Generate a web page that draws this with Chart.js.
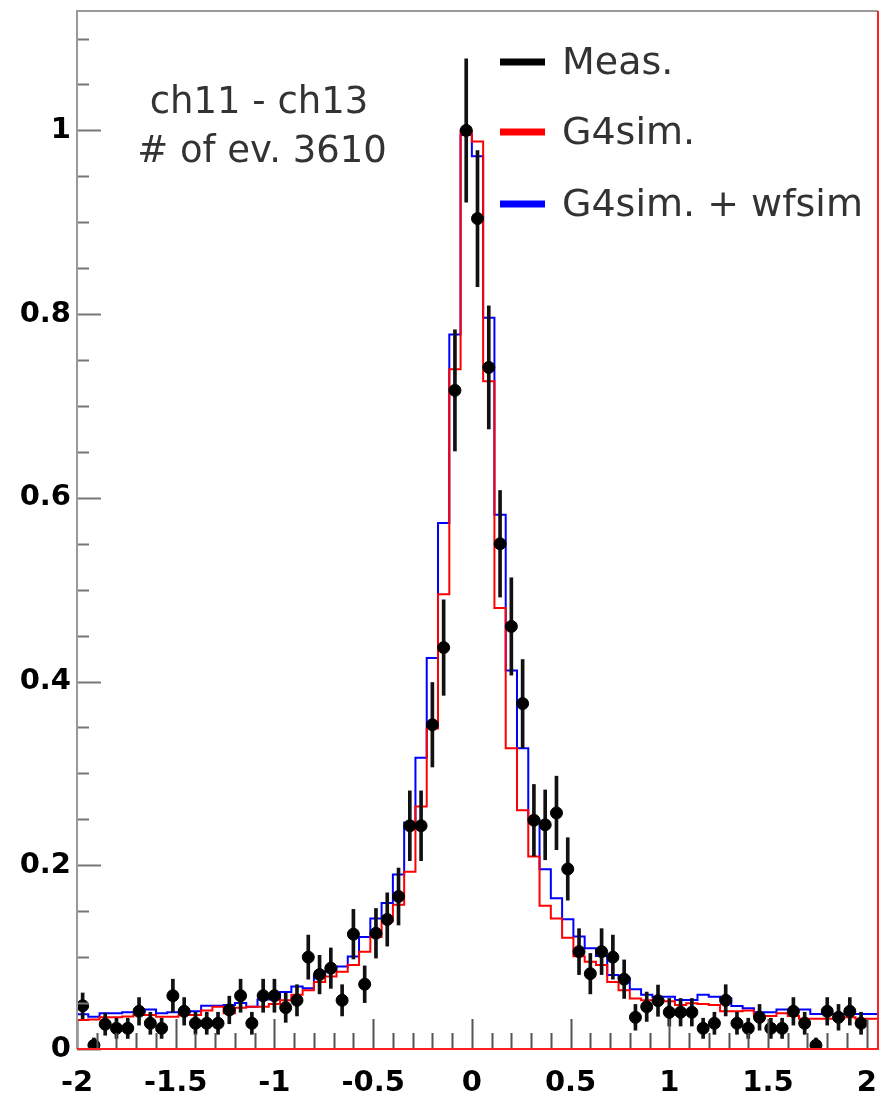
<!DOCTYPE html>
<html>
<head>
<meta charset="utf-8">
<script src="https://cdn.jsdelivr.net/npm/chart.js@4/dist/chart.umd.min.js"></script>
<style>
  body { margin: 0; background: #fff; }
  canvas { display: block; }
</style>
</head>
<body>
<canvas id="histChart" width="885" height="1102"></canvas>
<script>
// binning: 71 bins of width 4/70 starting at -2
const binLow = -2;
const binWidth = 4 / 70;
const nBins = 71;

const xTickValues = [-2, -1.5, -1, -0.5, 0, 0.5, 1, 1.5, 2];
const yTickValues = [0, 0.2, 0.4, 0.6, 0.8, 1];

// measured points (bin contents) and their errors
const measValues = [
  0.047, 0.004, 0.027, 0.0225, 0.0225, 0.041, 0.028, 0.0225, 0.058, 0.041,
  0.028, 0.028, 0.028, 0.0425, 0.058, 0.028, 0.058, 0.058, 0.045, 0.053,
  0.1, 0.081, 0.088, 0.053, 0.125, 0.0705, 0.126, 0.141, 0.166, 0.243,
  0.243, 0.353, 0.437, 0.717, 1.0, 0.904, 0.742, 0.55, 0.46, 0.376,
  0.249, 0.244, 0.257, 0.196, 0.106, 0.082, 0.106, 0.1, 0.076, 0.0345,
  0.046, 0.0526, 0.04, 0.04, 0.04, 0.0225, 0.028, 0.053, 0.028, 0.0225,
  0.0345, 0.0225, 0.0225, 0.041, 0.028, 0.004, 0.041, 0.0345, 0.041, 0.028,
  null
];
const measErrors = [
  0.014, 0.008, 0.012, 0.011, 0.011, 0.015, 0.012, 0.011, 0.018, 0.015,
  0.012, 0.012, 0.012, 0.015, 0.018, 0.012, 0.018, 0.018, 0.016, 0.017,
  0.024, 0.021, 0.022, 0.017, 0.027, 0.02, 0.027, 0.029, 0.031, 0.038,
  0.038, 0.046, 0.052, 0.066, 0.078, 0.074, 0.067, 0.058, 0.053, 0.048,
  0.039, 0.038, 0.04, 0.034, 0.025, 0.022, 0.025, 0.024, 0.021, 0.014,
  0.016, 0.017, 0.015, 0.015, 0.015, 0.011, 0.012, 0.017, 0.012, 0.011,
  0.014, 0.011, 0.011, 0.015, 0.012, 0.008, 0.015, 0.014, 0.015, 0.012,
  null
];

// G4sim. histogram
const g4simValues = [
  0.0316, 0.032, 0.0345, 0.0345, 0.0355, 0.037, 0.037, 0.035, 0.035, 0.037,
  0.037, 0.042, 0.046, 0.039, 0.045, 0.046, 0.046, 0.049, 0.053, 0.059,
  0.064, 0.073, 0.079, 0.084, 0.0915, 0.106, 0.122, 0.139, 0.157, 0.193,
  0.264, 0.349, 0.495, 0.74, 1.0, 0.988, 0.727, 0.48, 0.3275, 0.26,
  0.2095, 0.156, 0.142, 0.121, 0.101, 0.095, 0.0915, 0.073, 0.064, 0.055,
  0.053, 0.053, 0.052, 0.048, 0.0497, 0.049, 0.048, 0.041, 0.041, 0.042,
  0.036, 0.036, 0.039, 0.036, 0.033, 0.033, 0.033, 0.033, 0.0345, 0.033,
  0.033
];

// G4sim. + wfsim histogram
const wfsimValues = [
  0.0378, 0.035, 0.0388, 0.0388, 0.04, 0.04, 0.043, 0.039, 0.04, 0.04,
  0.041, 0.047, 0.047, 0.048, 0.05, 0.046, 0.054, 0.054, 0.062, 0.068,
  0.066, 0.08, 0.085, 0.0897, 0.1006, 0.122, 0.142, 0.159, 0.19, 0.2466,
  0.317, 0.4256, 0.5727, 0.7778, 0.995, 0.972, 0.796, 0.5817, 0.412, 0.3275,
  0.2495, 0.1957, 0.164, 0.1413, 0.1224, 0.1097, 0.1013, 0.0806, 0.077, 0.065,
  0.059, 0.057, 0.057, 0.0534, 0.0534, 0.059, 0.057, 0.0552, 0.0468, 0.0443,
  0.04, 0.04, 0.043, 0.043, 0.043, 0.038, 0.038, 0.038, 0.038, 0.038,
  0.038
];

const binCenter = (i) => binLow + (i + 0.5) * binWidth;
const binEdge = (i) => binLow + i * binWidth;

// step outline: left edge of every bin plus the closing right edge
function stepPoints(values) {
  const pts = values.map((v, i) => ({ x: binEdge(i), y: v }));
  pts.push({ x: binEdge(values.length), y: values[values.length - 1] });
  return pts;
}

const measPoints = [];
const errorBars = [];
measValues.forEach((v, i) => {
  if (v === null) return;
  measPoints.push({ x: binCenter(i), y: v });
  errorBars.push({ x: binCenter(i), y: [v - measErrors[i], v + measErrors[i]] });
});

const textFont = '"DejaVu Sans", sans-serif';

// frame, inner ticks, labels and legend drawn like a ROOT canvas
const decorations = {
  id: "decorations",
  afterDraw(chart) {
    const { ctx, chartArea: a, scales } = chart;
    const x = scales.x;
    const y = scales.y;
    ctx.save();

    // y ticks every 0.05, long every 0.2
    ctx.lineWidth = 2;
    ctx.strokeStyle = "#777";
    ctx.beginPath();
    for (let k = 0; k * 0.05 <= y.max + 1e-9; k++) {
      const py = Math.round(y.getPixelForValue(k * 0.05)) + 0.5;
      const len = k % 4 === 0 ? 24 : 12;
      ctx.moveTo(a.left, py);
      ctx.lineTo(a.left + len, py);
    }
    ctx.stroke();

    // x ticks every 0.1, long every 0.5
    ctx.strokeStyle = "#555";
    ctx.beginPath();
    for (let k = -20; k <= 20; k++) {
      const px = Math.round(x.getPixelForValue(k / 10)) + 0.5;
      const len = k % 5 === 0 ? 30 : 16;
      ctx.moveTo(px, a.bottom);
      ctx.lineTo(px, a.bottom - len);
    }
    ctx.stroke();

    // frame
    ctx.lineWidth = 2;
    ctx.strokeStyle = "#999";
    ctx.beginPath();
    ctx.moveTo(a.left, a.bottom);
    ctx.lineTo(a.left, a.top);
    ctx.lineTo(a.right, a.top);
    ctx.stroke();
    ctx.strokeStyle = "#ff2020";
    ctx.beginPath();
    ctx.moveTo(a.right, a.top);
    ctx.lineTo(a.right, a.bottom);
    ctx.lineTo(a.left, a.bottom);
    ctx.stroke();

    // annotation
    ctx.fillStyle = "#333";
    ctx.font = "37px " + textFont;
    ctx.textAlign = "center";
    ctx.textBaseline = "middle";
    ctx.fillText("ch11 - ch13", 259, 103);
    ctx.fillText("# of ev. 3610", 262, 152);

    // legend
    const legend = [
      { label: "Meas.", color: "#000000", y: 62 },
      { label: "G4sim.", color: "#ff0000", y: 132 },
      { label: "G4sim. + wfsim", color: "#0000ff", y: 204 },
    ];
    ctx.font = "38px " + textFont;
    ctx.textAlign = "left";
    legend.forEach((item) => {
      ctx.strokeStyle = item.color;
      ctx.lineWidth = 7;
      ctx.beginPath();
      ctx.moveTo(500, item.y);
      ctx.lineTo(545, item.y);
      ctx.stroke();
      ctx.fillStyle = "#333";
      ctx.fillText(item.label, 562, item.y + 2);
    });

    ctx.restore();
  },
};

const tickFont = { family: textFont, size: 29, weight: "bold" };

new Chart(document.getElementById("histChart"), {
  data: {
    datasets: [
      {
        type: "scatter",
        label: "Meas.",
        data: measPoints,
        backgroundColor: "#000",
        borderColor: "#000",
        pointRadius: 6,
        pointHoverRadius: 6,
        order: 0,
      },
      {
        type: "bar",
        label: "Meas. errors",
        data: errorBars,
        backgroundColor: "#111",
        barThickness: 3,
        order: 1,
      },
      {
        type: "line",
        label: "G4sim.",
        data: stepPoints(g4simValues),
        stepped: true,
        borderColor: "#ff0000",
        borderWidth: 2,
        pointRadius: 0,
        fill: false,
        order: 2,
      },
      {
        type: "line",
        label: "G4sim. + wfsim",
        data: stepPoints(wfsimValues),
        stepped: true,
        borderColor: "#0000ff",
        borderWidth: 2,
        pointRadius: 0,
        fill: false,
        order: 3,
      },
    ],
  },
  options: {
    responsive: false,
    animation: false,
    layout: { padding: { top: 11, right: 6, left: 0, bottom: 0 } },
    plugins: {
      legend: { display: false },
      tooltip: { enabled: false },
    },
    scales: {
      x: {
        type: "linear",
        offset: false,
        min: binLow,
        max: binEdge(nBins),
        grid: { display: false, drawTicks: false, offset: false },
        border: { display: false },
        ticks: {
          font: tickFont,
          color: "#000",
          padding: 17,
          maxRotation: 0,
          callback: (v) => String(v),
        },
        afterBuildTicks: (scale) => {
          scale.ticks = xTickValues.map((v) => ({ value: v }));
        },
        afterFit: (scale) => {
          scale.height = 53;
          scale.paddingLeft = 0;
          scale.paddingRight = 0;
        },
      },
      y: {
        type: "linear",
        min: 0,
        max: 1.13,
        grid: { display: false, drawTicks: false },
        border: { display: false },
        ticks: {
          font: tickFont,
          color: "#000",
          padding: 6,
          callback: (v) => String(v),
        },
        afterBuildTicks: (scale) => {
          scale.ticks = yTickValues.map((v) => ({ value: v }));
        },
        afterFit: (scale) => {
          scale.width = 77;
          scale.paddingTop = 0;
          scale.paddingBottom = 0;
        },
      },
    },
  },
  plugins: [decorations],
});
</script>
</body>
</html>
